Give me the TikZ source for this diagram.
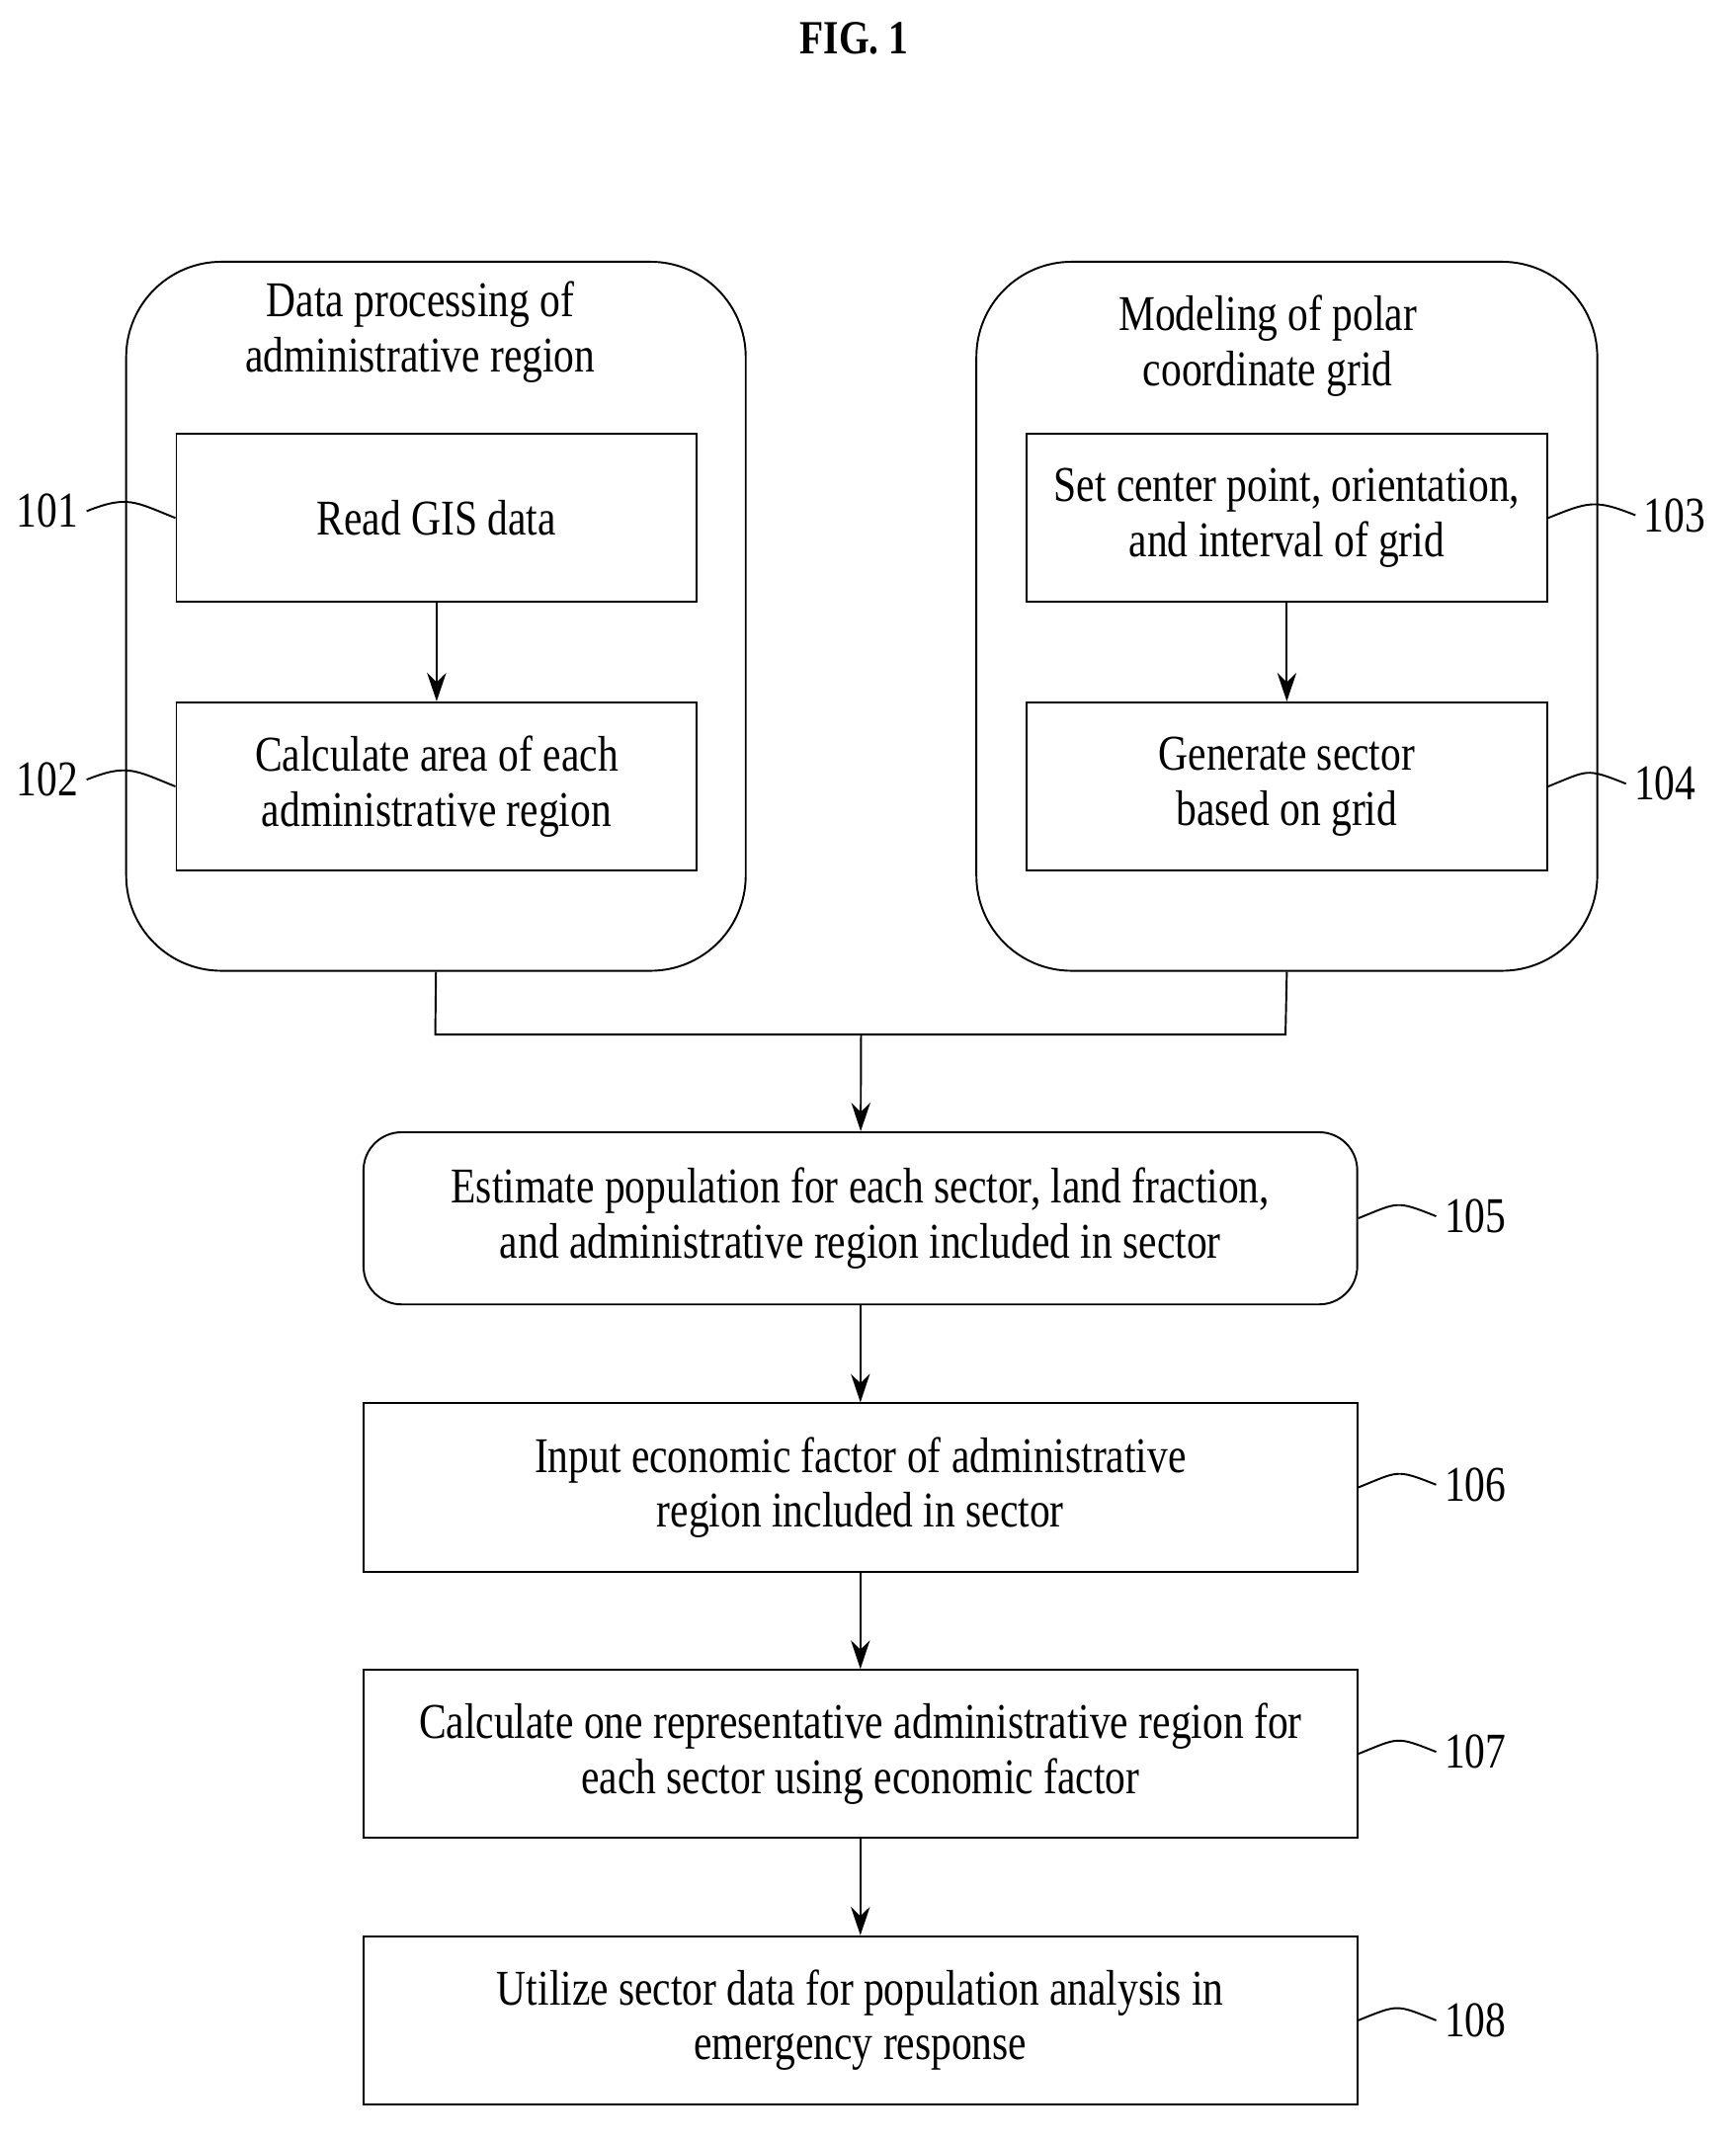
\documentclass[tikz,border=0pt]{standalone}
\usepackage{fontspec}
\setmainfont{Liberation Serif}[FakeStretch=0.82]
\usetikzlibrary{arrows.meta}
\begin{document}
\begin{tikzpicture}[x=0.02cm,y=-0.02cm,
  every node/.style={font=\fontsize{21}{23}\selectfont},
  box/.style={draw,thick,align=center,inner sep=0pt},
  arr/.style={thick,-{Stealth[length=12pt,width=8pt]}},
  lead/.style={thick}]
\useasboundingbox (0,0) rectangle (1280,1579);
\node[font=\bfseries\fontsize{20}{22}\selectfont] (t) at (630,28) {FIG. 1};
% groups
\node[box,rounded corners=40pt,minimum width=457\pgflinewidth] (L) at (321.5,454.5) [minimum width=9.14cm,minimum height=10.46cm] {};
\node[box,rounded corners=40pt] (R) at (949,454.5) [minimum width=9.16cm,minimum height=10.46cm] {};
\node (Lt) at (310,245) [align=center] {Data processing of\\administrative region};
\node (Rt) at (935,255) [align=center] {Modeling of polar\\coordinate grid};
\tikzset{small/.style={box,minimum width=7.68cm,minimum height=2.48cm}}
\node[small] (b101) at (322,382) {Read GIS data};
\node[small] (b102) at (322,580) {Calculate area of each\\administrative region};
\node[small] (b103) at (949,382) {Set center point, orientation,\\and interval of grid};
\node[small] (b104) at (949,580) {Generate sector\\based on grid};
\tikzset{wide/.style={box,minimum width=14.66cm,minimum height=2.48cm}}
\node[wide,rounded corners=16pt,minimum height=2.54cm] (b105) at (634.5,898.5) {Estimate population for each sector, land fraction,\\ and administrative region included in sector};
\node[wide] (b106) at (634.5,1097) {Input economic factor of administrative\\region included in sector};
\node[wide] (b107) at (634.5,1293.5) {Calculate one representative administrative region for\\each sector using economic factor};
\node[wide] (b108) at (634.5,1490) {Utilize sector data for population analysis in\\emergency response};
\draw[arr] (b101) -- (b102);
\draw[arr] (b103) -- (b104);
\coordinate (m) at (635,763);
\draw[thick] (L.south) -- (321,763) -- (948,763) -- (R.south);
\draw[arr] (m) -- (b105);
\draw[arr] (b105) -- (b106);
\draw[arr] (b106) -- (b107);
\draw[arr] (b107) -- (b108);
% labels
\node (l101) at (35,377) {101};
\node (l102) at (35,575) {102};
\node (l103) at (1235,380) {103};
\node (l104) at (1228,578) {104};
\node (l105) at (1088,897) {105};
\node (l106) at (1088,1095) {106};
\node (l107) at (1088,1292) {107};
\node (l108) at (1088,1490) {108};
\draw[lead] (l101.east) .. controls +(30,-12) and +(-30,-12) .. (b101.west);
\draw[lead] (l102.east) .. controls +(30,-12) and +(-30,-12) .. (b102.west);
\draw[lead] (b103.east) .. controls +(30,-12) and +(-30,-12) .. (l103.west);
\draw[lead] (b104.east) .. controls +(30,-12) and +(-30,-12) .. (l104.west);
\draw[lead] (b105.east) .. controls +(30,-12) and +(-30,-12) .. (l105.west);
\draw[lead] (b106.east) .. controls +(30,-12) and +(-30,-12) .. (l106.west);
\draw[lead] (b107.east) .. controls +(30,-12) and +(-30,-12) .. (l107.west);
\draw[lead] (b108.east) .. controls +(30,-12) and +(-30,-12) .. (l108.west);
\end{tikzpicture}
\end{document}
